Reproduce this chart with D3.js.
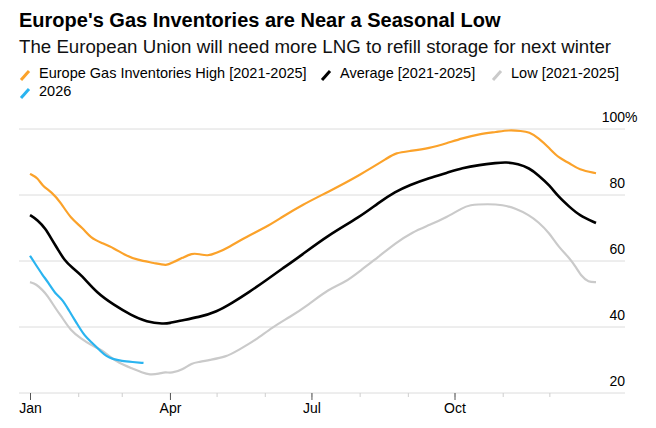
<!DOCTYPE html>
<html>
<head>
<meta charset="utf-8">
<script src="https://cdn.jsdelivr.net/npm/d3@7"></script>
<style>
  body { margin: 0; background: #fff; }
  svg { display: block; font-family: "Liberation Sans", Arial, Helvetica, sans-serif; }
</style>
</head>
<body>
<svg id="chart" width="656" height="428"></svg>
<script>
// storage fill, % of capacity
const highSeries = [
  ["2026-01-01", 86.4], ["2026-01-06", 85.2], ["2026-01-09", 82.7], ["2026-01-15", 80.9],
  ["2026-01-21", 77.6], ["2026-01-27", 73.0], ["2026-02-04", 70.0], ["2026-02-09", 67.0],
  ["2026-02-16", 65.5], ["2026-02-24", 63.9], ["2026-03-03", 61.8], ["2026-03-11", 60.3],
  ["2026-03-22", 59.4], ["2026-03-30", 58.5], ["2026-04-03", 59.7], ["2026-04-09", 60.9],
  ["2026-04-15", 62.4], ["2026-04-20", 62.1], ["2026-04-25", 61.5], ["2026-05-01", 62.4],
  ["2026-05-09", 64.2], ["2026-05-20", 67.3], ["2026-06-02", 70.3], ["2026-06-12", 73.3],
  ["2026-06-25", 77.0], ["2026-07-12", 81.0], ["2026-08-01", 86.0], ["2026-08-20", 91.5],
  ["2026-08-24", 92.7], ["2026-09-02", 93.3], ["2026-09-15", 94.2], ["2026-09-26", 95.7],
  ["2026-10-06", 97.2], ["2026-10-17", 98.5], ["2026-10-28", 99.1], ["2026-11-05", 99.7],
  ["2026-11-13", 99.4], ["2026-11-18", 99.1], ["2026-11-24", 97.3], ["2026-12-01", 94.2],
  ["2026-12-07", 91.2], ["2026-12-14", 89.7], ["2026-12-20", 87.6], ["2026-12-31", 86.6]
];

const averageSeries = [
  ["2026-01-01", 73.9], ["2026-01-06", 72.4], ["2026-01-11", 69.8], ["2026-01-15", 66.5],
  ["2026-01-19", 63.5], ["2026-01-23", 60.3], ["2026-01-28", 58.0], ["2026-02-03", 55.8],
  ["2026-02-13", 50.3], ["2026-02-24", 46.7], ["2026-03-07", 43.6], ["2026-03-17", 41.5],
  ["2026-03-28", 40.9], ["2026-04-01", 41.2], ["2026-04-06", 41.8], ["2026-04-20", 43.0],
  ["2026-05-01", 44.6], ["2026-05-11", 47.3], ["2026-05-22", 50.6], ["2026-06-02", 54.2],
  ["2026-06-12", 57.6], ["2026-06-23", 61.2], ["2026-07-12", 67.9], ["2026-08-01", 73.3],
  ["2026-08-13", 77.6], ["2026-08-24", 81.0], ["2026-09-02", 83.0], ["2026-09-15", 85.2],
  ["2026-09-26", 86.7], ["2026-10-06", 88.2], ["2026-10-17", 89.1], ["2026-10-28", 89.7],
  ["2026-11-03", 90.0], ["2026-11-11", 89.4], ["2026-11-18", 88.2], ["2026-11-24", 86.0],
  ["2026-12-01", 83.0], ["2026-12-07", 79.4], ["2026-12-14", 76.4], ["2026-12-20", 73.9],
  ["2026-12-31", 71.5]
];

const lowSeries = [
  ["2026-01-01", 53.6], ["2026-01-05", 53.0], ["2026-01-09", 51.2], ["2026-01-12", 49.7],
  ["2026-01-18", 45.2], ["2026-01-22", 42.7], ["2026-01-27", 39.0], ["2026-02-03", 36.4],
  ["2026-02-09", 34.6], ["2026-02-15", 33.3], ["2026-02-21", 31.2], ["2026-02-27", 29.1],
  ["2026-03-08", 27.4], ["2026-03-14", 26.2], ["2026-03-19", 25.5], ["2026-03-25", 25.8],
  ["2026-03-29", 26.4], ["2026-04-02", 26.0], ["2026-04-09", 27.0], ["2026-04-15", 29.1],
  ["2026-04-20", 29.4], ["2026-04-26", 30.0], ["2026-05-07", 30.9], ["2026-05-15", 33.0],
  ["2026-05-26", 36.0], ["2026-06-06", 40.0], ["2026-06-17", 43.0], ["2026-06-29", 46.7],
  ["2026-07-12", 51.5], ["2026-07-23", 53.6], ["2026-08-02", 57.3], ["2026-08-13", 61.2],
  ["2026-08-24", 65.4], ["2026-09-04", 68.8], ["2026-09-15", 70.9], ["2026-09-26", 73.3],
  ["2026-10-06", 76.0], ["2026-10-10", 77.0], ["2026-10-23", 77.3], ["2026-11-01", 77.0],
  ["2026-11-09", 76.0], ["2026-11-18", 73.9], ["2026-11-24", 71.8], ["2026-12-01", 68.5],
  ["2026-12-07", 64.2], ["2026-12-14", 60.9], ["2026-12-18", 58.2], ["2026-12-22", 55.2],
  ["2026-12-26", 53.6], ["2026-12-31", 53.6]
];

const currentSeries = [
  ["2026-01-01", 61.6], ["2026-01-04", 59.4], ["2026-01-09", 55.8], ["2026-01-13", 53.3],
  ["2026-01-17", 50.2], ["2026-01-22", 48.3], ["2026-01-26", 45.0], ["2026-01-31", 41.2],
  ["2026-02-05", 37.3], ["2026-02-10", 35.2], ["2026-02-16", 32.4], ["2026-02-19", 31.2],
  ["2026-02-23", 30.3], ["2026-03-01", 29.7], ["2026-03-08", 29.4], ["2026-03-15", 29.1]
];

const yTicks = [20, 40, 60, 80, 100];

const legendRows = [
  [{label: "Europe Gas Inventories High [2021-2025]", key: "high"},
   {label: "Average [2021-2025]", key: "average"},
   {label: "Low [2021-2025]", key: "low"}],
  [{label: "2026", key: "current"}]
];

const colors = {high: "#fba22a", average: "#000000", low: "#cacaca", current: "#2ab4f0"};
const widths = {high: 2.2, average: 2.6, low: 2.2, current: 2.2};

const svg = d3.select("#chart");
const parse = d3.timeParse("%Y-%m-%d");
const margin = {top: 129, right: 31, bottom: 35, left: 19};

const xScale = d3.scaleTime()
    .domain([parse("2026-01-01"), parse("2026-12-31")])
    .range([30, 596]);

const yScale = d3.scaleLinear()
    .domain([20, 100])
    .range([428 - margin.bottom, margin.top]);

// titles
svg.append("text")
    .attr("x", 19).attr("y", 27)
    .style("font-size", "20px").style("font-weight", "bold")
    .text("Europe's Gas Inventories are Near a Seasonal Low");

svg.append("text")
    .attr("x", 19).attr("y", 53)
    .style("font-size", "18.7px").style("fill", "#111")
    .text("The European Union will need more LNG to refill storage for next winter");

// legend
const legendX = [[21, 322, 493], [21]];
legendRows.forEach((row, r) => {
  const baseY = 78 + r * 18;
  row.forEach((item, i) => {
    const x0 = legendX[r][i];
    svg.append("line")
        .attr("x1", x0).attr("y1", baseY + 2)
        .attr("x2", x0 + 8).attr("y2", baseY - 7)
        .attr("stroke", colors[item.key])
        .attr("stroke-width", 3);
    svg.append("text")
        .attr("x", x0 + 18).attr("y", baseY)
        .style("font-size", "14.5px")
        .text(item.label);
  });
});

// grid + y labels
const grid = svg.append("g").attr("class", "grid");
grid.selectAll("line")
  .data(yTicks)
  .enter().append("line")
    .attr("x1", margin.left).attr("x2", 625)
    .attr("y1", d => yScale(d)).attr("y2", d => yScale(d))
    .attr("stroke", "#dcdcdc")
    .attr("stroke-width", 1);

grid.selectAll("text")
  .data(yTicks)
  .enter().append("text")
    .attr("x", 625)
    .attr("y", d => yScale(d) - 7)
    .attr("text-anchor", "end")
    .style("font-size", "14px")
    .text(d => d);

svg.append("text")
    .attr("x", 625).attr("y", yScale(100) - 7)
    .style("font-size", "14px")
    .text("%");

// x axis: minor month ticks, then labelled quarters
const minorAxis = d3.axisBottom(xScale)
    .ticks(d3.timeMonth.every(1))
    .tickSize(4)
    .tickFormat("");

svg.append("g")
    .attr("transform", `translate(0,${yScale(20)})`)
    .call(minorAxis)
    .call(g => g.select(".domain").remove())
    .call(g => g.selectAll(".tick line").attr("stroke", "#cfcfcf"));

const majorAxis = d3.axisBottom(xScale)
    .ticks(d3.timeMonth.every(3))
    .tickSize(7)
    .tickPadding(3)
    .tickFormat(d3.timeFormat("%b"));

svg.append("g")
    .attr("transform", `translate(0,${yScale(20)})`)
    .call(majorAxis)
    .call(g => g.select(".domain").remove())
    .call(g => g.selectAll(".tick line").attr("stroke", "#555"))
    .call(g => g.selectAll(".tick text")
        .attr("fill", "#000")
        .style("font-size", "14px")
        .style("font-family", "'Liberation Sans', Arial, sans-serif"));

// lines
const line = d3.line()
    .x(d => xScale(parse(d[0])))
    .y(d => yScale(d[1]))
    .curve(d3.curveBasis);

const seriesList = [
  {key: "low", data: lowSeries},
  {key: "high", data: highSeries},
  {key: "average", data: averageSeries},
  {key: "current", data: currentSeries}
];

svg.append("g").attr("class", "lines")
  .selectAll("path")
  .data(seriesList)
  .enter().append("path")
    .attr("d", d => line(d.data))
    .attr("fill", "none")
    .attr("stroke", d => colors[d.key])
    .attr("stroke-width", d => widths[d.key])
    .attr("stroke-linejoin", "round");
</script>
</body>
</html>
